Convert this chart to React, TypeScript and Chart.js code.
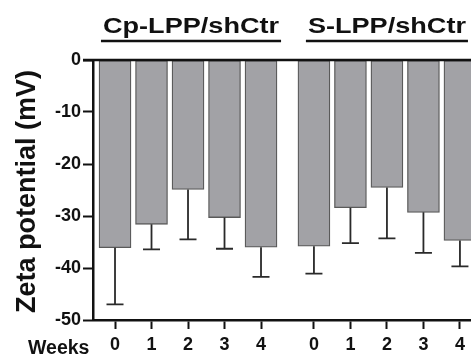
import React, { useEffect, useRef } from "react";
import { Chart, registerables } from "chart.js";

Chart.register(...registerables);

const weeks = ["0", "1", "2", "3", "4"];
const groupNames = ["Cp-LPP/shCtr", "S-LPP/shCtr"];
const cpMeans = [-36.1, -31.6, -24.9, -30.3, -36.0];
const cpErrors = [10.9, 4.8, 9.6, 6.0, 5.7];
const sMeans = [-35.8, -28.4, -24.5, -29.3, -34.7];
const sErrors = [5.3, 6.8, 9.8, 7.8, 5.0];
const yTicks = [0, -10, -20, -30, -40, -50];

const GROUP2_START = 5.45;
const FONT = '"Liberation Sans", Arial, sans-serif';
const INK = "#111111";

const xPos = (g: number, i: number) => (g === 0 ? i : GROUP2_START + i);
const allX = [...weeks.map((_, i) => xPos(0, i)), ...weeks.map((_, i) => xPos(1, i))];

const overlay = {
  id: "overlay",
  afterDatasetsDraw(chart: any) {
    const { ctx } = chart;
    const x = chart.scales.x;
    const y = chart.scales.y;
    ctx.save();
    // zero line
    const y0 = y.getPixelForValue(0);
    ctx.strokeStyle = INK;
    ctx.lineWidth = 2.5;
    ctx.beginPath();
    ctx.moveTo(x.left - 10, y0);
    ctx.lineTo(chart.width, y0);
    ctx.stroke();
    // error bars
    ctx.strokeStyle = "#2a2a2a";
    ctx.lineWidth = 1.8;
    chart.data.datasets.forEach((ds: any) => {
      ds.data.forEach((p: any, i: number) => {
        const err = ds.errors[i];
        const px = x.getPixelForValue(p.x);
        const ya = y.getPixelForValue(p.y);
        const yb = y.getPixelForValue(p.y - err);
        ctx.beginPath();
        ctx.moveTo(px, ya);
        ctx.lineTo(px, yb);
        ctx.moveTo(px - 8.5, yb);
        ctx.lineTo(px + 8.5, yb);
        ctx.stroke();
      });
    });
    // group titles
    ctx.fillStyle = INK;
    ctx.strokeStyle = INK;
    ctx.font = `bold 21.5px ${FONT}`;
    ctx.textAlign = "center";
    ctx.textBaseline = "alphabetic";
    const sx = 1.26;
    groupNames.forEach((name, g) => {
      const cx = x.getPixelForValue(xPos(g, 2)) + (g === 0 ? 3 : 0);
      const w = ctx.measureText(name).width * sx;
      ctx.save();
      ctx.translate(cx, 32.5);
      ctx.scale(sx, 1);
      ctx.fillText(name, 0, 0);
      ctx.restore();
      ctx.lineWidth = 2.5;
      ctx.beginPath();
      ctx.moveTo(cx - w / 2 - 2, 41);
      ctx.lineTo(cx + w / 2 + 2, 41);
      ctx.stroke();
    });
    // y title
    ctx.save();
    ctx.translate(34.5, 191.5);
    ctx.rotate(-Math.PI / 2);
    ctx.font = `bold 27px ${FONT}`;
    ctx.textAlign = "center";
    ctx.fillText("Zeta potential (mV)", 0, 0);
    ctx.restore();
    // Weeks label
    ctx.font = `bold 19.5px ${FONT}`;
    ctx.textAlign = "left";
    ctx.fillText("Weeks", 28, 353.5);
    ctx.restore();
  },
};

export default function App() {
  const ref = useRef<HTMLCanvasElement | null>(null);
  useEffect(() => {
    if (!ref.current) return;
    const mk = (g: number, means: number[], errors: number[]) => ({
      label: groupNames[g],
      data: means.map((m, i) => ({ x: xPos(g, i), y: m })),
      errors,
      backgroundColor: "#a2a2a6",
      borderColor: "#5a5a5a",
      borderWidth: 1.3,
      borderSkipped: false,
      barThickness: 32,
      grouped: false,
    });
    const chart = new Chart(ref.current, {
      type: "bar",
      data: {
        datasets: [mk(0, cpMeans, cpErrors), mk(1, sMeans, sErrors)] as any,
      },
      options: {
        responsive: false,
        animation: false,
        devicePixelRatio: 1,
        layout: { padding: { top: 60, right: 0, bottom: 0, left: 0 } },
        plugins: { legend: { display: false }, tooltip: { enabled: false } },
        scales: {
          x: {
            type: "linear",
            min: -0.603,
            max: 9.753,
            offset: false,
            afterBuildTicks: (s: any) => {
              s.ticks = allX.map((v) => ({ value: v }));
            },
            afterFit: (s: any) => {
              s.height = 37;
            },
            ticks: {
              callback: (_v: any, i: number) => weeks[i % weeks.length],
              font: { family: FONT, size: 18, weight: "bold" },
              color: INK,
              padding: 5,
              maxRotation: 0,
              autoSkip: false,
            },
            grid: {
              offset: false,
              drawOnChartArea: false,
              drawTicks: true,
              tickLength: 9,
              tickWidth: 2,
              tickColor: INK,
            },
            border: { display: true, color: INK, width: 2.5 },
          },
          y: {
            min: -50,
            max: 0,
            afterBuildTicks: (s: any) => {
              s.ticks = yTicks.map((v) => ({ value: v }));
            },
            afterFit: (s: any) => {
              s.width = 93;
            },
            ticks: {
              font: { family: FONT, size: 18, weight: "bold" },
              color: INK,
              padding: 2,
            },
            grid: {
              drawOnChartArea: false,
              drawTicks: true,
              tickLength: 10,
              tickWidth: 2,
              tickColor: INK,
            },
            border: { display: true, color: INK, width: 2.5 },
          },
        },
      } as any,
      plugins: [overlay],
    });
    return () => chart.destroy();
  }, []);
  return (
    <div style={{ position: "fixed", left: 0, top: 0, width: 471, height: 357, background: "#fff" }}>
      <canvas ref={ref} width={471} height={357} style={{ display: "block" }} />
    </div>
  );
}
